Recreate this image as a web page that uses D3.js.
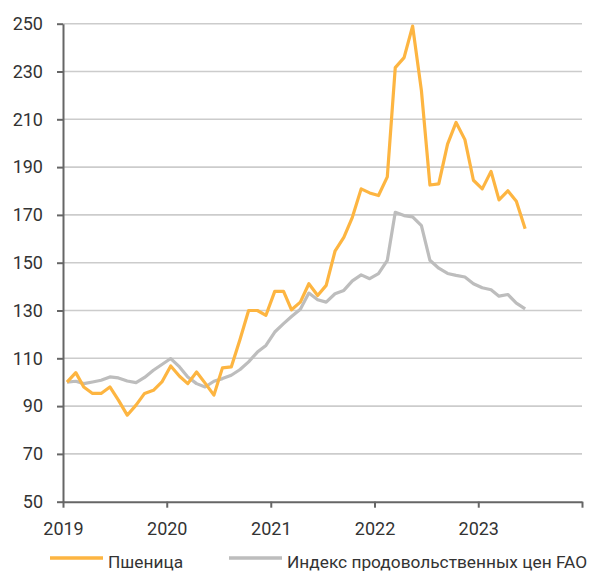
<!DOCTYPE html>
<html>
<head>
<meta charset="utf-8">
<script src="https://cdn.jsdelivr.net/npm/d3@7"></script>
<style>
  body { margin: 0; background: #fff; }
  text { font-family: Roboto, "Noto Sans", sans-serif; }
</style>
</head>
<body>
<div id="my_dataviz"></div>
<script>
// Monthly series, Jan 2019 .. Jun 2023 (Jan 2019 = 100)
var startYear = 2019, startMonth = 0;
var wheat = [100, 104, 98, 95.3, 95.3, 98, 92.5, 86.2, 90.4, 95.3, 96.6, 100.1,
             106.8, 102.5, 99.4, 104.3, 99.6, 94.6, 106, 106.4, 118, 130, 130, 128,
             138, 138, 130.3, 133.5, 141.2, 136.3, 140.5, 154.8, 160.6, 169, 180.9, 179.2,
             178.1, 185.9, 231.6, 235.8, 249, 222, 182.5, 183, 199.6, 208.7, 201.5, 184.5,
             180.9, 188.2, 176.3, 180.1, 175.7, 164.2];
var fao = [100, 100.4, 99.4, 100.1, 100.8, 102.2, 101.8, 100.5, 99.8, 102, 105, 107.4,
           109.9, 106.4, 102.2, 99.4, 98, 100.4, 101.5, 102.9, 105.3, 108.5, 112.6, 115.4,
           121, 124.5, 127.5, 130.5, 137.3, 134.5, 133.5, 137, 138.4, 142.4, 144.9, 143.3,
           145.4, 151, 171.1, 169.7, 169.2, 165.5, 151, 147.7, 145.5, 144.7, 144, 141.2,
           139.5, 138.7, 136, 136.7, 133.1, 130.7];
var yTicks = [50, 70, 90, 110, 130, 150, 170, 190, 210, 230, 250];
var years = [2019, 2020, 2021, 2022, 2023, 2024];
var seriesNames = ["Пшеница", "Индекс продовольственных цен FAO"];
var seriesColors = ["#FDB541", "#BDBDBD"];

var margin = { top: 23.7, right: 10, bottom: 70.3, left: 63 },
    width = 592 - margin.left - margin.right,
    height = 572 - margin.top - margin.bottom;

var svg = d3.select("#my_dataviz")
    .append("svg")
    .attr("width", 592)
    .attr("height", 572)
    .append("g")
    .attr("transform", "translate(" + margin.left + "," + margin.top + ")");

var x = d3.scaleTime()
    .domain([new Date(years[0], 0, 1), new Date(years[years.length - 1], 0, 1)])
    .range([0, width]);

var y = d3.scaleLinear()
    .domain([50, 250])
    .range([height, 0]);

// gridlines
svg.append("g")
    .selectAll("line")
    .data(yTicks.slice(1))
    .enter()
    .append("line")
    .attr("x1", 0)
    .attr("x2", width)
    .attr("y1", function(d) { return y(d); })
    .attr("y2", function(d) { return y(d); })
    .attr("stroke", "#cccccc")
    .attr("stroke-width", 1.6);

function monthDate(i) { return new Date(startYear, startMonth + i, 15); }

var line = d3.line()
    .x(function(d, i) { return x(monthDate(i)); })
    .y(function(d) { return y(d); });

[fao, wheat].forEach(function(s) {
    svg.append("path")
        .datum(s)
        .attr("fill", "none")
        .attr("stroke", s === wheat ? seriesColors[0] : seriesColors[1])
        .attr("stroke-width", 3.2)
        .attr("stroke-linejoin", "round")
        .attr("d", line);
});

// axes
var yAxis = svg.append("g")
    .call(d3.axisLeft(y).tickValues(yTicks).tickSize(6).tickPadding(14).tickSizeOuter(0));
var xAxis = svg.append("g")
    .attr("transform", "translate(0," + height + ")")
    .call(d3.axisBottom(x)
        .tickValues(years.map(function(d) { return new Date(d, 0, 1); }))
        .tickFormat(function(d) { return d.getFullYear() < 2024 ? d.getFullYear() : ""; })
        .tickSize(6).tickPadding(15).tickSizeOuter(0));

[yAxis, xAxis].forEach(function(a) {
    a.select(".domain").attr("stroke", "#666").attr("stroke-width", 2);
    a.selectAll(".tick line").attr("stroke", "#666").attr("stroke-width", 2);
    a.selectAll("text").style("font-size", "18px").style("fill", "#333");
});

// legend
var legend = svg.append("g").attr("transform", "translate(" + (-margin.left) + "," + (558 - margin.top) + ")");
var legendX = [50, 229];
seriesNames.forEach(function(n, i) {
    legend.append("line")
        .attr("x1", legendX[i]).attr("x2", legendX[i] + 53)
        .attr("y1", 0).attr("y2", 0)
        .attr("stroke", seriesColors[i])
        .attr("stroke-width", 3.5);
    legend.append("text")
        .attr("x", legendX[i] + 58)
        .attr("y", 10)
        .style("font-size", "17.3px")
        .style("fill", "#333")
        .text(n);
});
</script>
</body>
</html>
